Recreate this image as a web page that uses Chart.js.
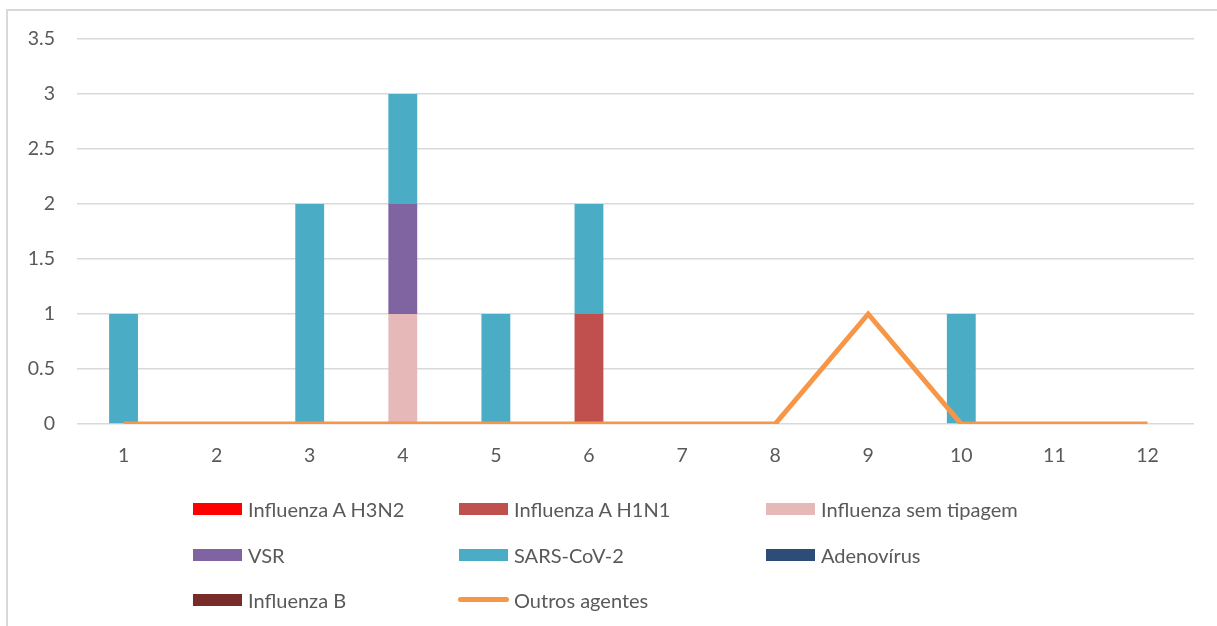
<!DOCTYPE html>
<html>
<head>
<meta charset="utf-8">
<script src="https://cdn.jsdelivr.net/npm/chart.js@4"></script>
<style>
  body { margin: 0; background: #fff; }
  #wrap { position: relative; width: 1217px; height: 626px; overflow: hidden; }
  #frame { position: absolute; left: 6px; top: 9px; width: 1300px; height: 700px; border: 2px solid #d9d9d9; box-sizing: border-box; }
  canvas { position: absolute; left: 0; top: 0; }
  .lg { position: absolute; font-family: Lato, "Open Sans", sans-serif; font-size: 20px; color: #595959; white-space: nowrap; line-height: 22px; }
  .sw { position: absolute; left: -55px; top: 5px; width: 49px; height: 12px; }
  .ln { position: absolute; left: -56px; top: 8px; width: 51px; height: 5px; border-radius: 3px; }
</style>
</head>
<body>
<div id="wrap">
  <div id="frame"></div>
  <canvas id="c" width="1217" height="626"></canvas>
  <div id="legend"></div>
</div>
<script>
const categories = ["1", "2", "3", "4", "5", "6", "7", "8", "9", "10", "11", "12"];
const h3n2 = [0, 0, 0, 0, 0, 0, 0, 0, 0, 0, 0, 0];
const h1n1 = [0, 0, 0, 0, 0, 1, 0, 0, 0, 0, 0, 0];
const semTipagem = [0, 0, 0, 1, 0, 0, 0, 0, 0, 0, 0, 0];
const vsr = [0, 0, 0, 1, 0, 0, 0, 0, 0, 0, 0, 0];
const sarsCov2 = [1, 0, 2, 1, 1, 1, 0, 0, 0, 1, 0, 0];
const adenovirus = [0, 0, 0, 0, 0, 0, 0, 0, 0, 0, 0, 0];
const influenzaB = [0, 0, 0, 0, 0, 0, 0, 0, 0, 0, 0, 0];
const outros = [0, 0, 0, 0, 0, 0, 0, 0, 1, 0, 0, 0];

const bar = (label, data, color) => ({
  type: "bar", label, data, backgroundColor: color, borderWidth: 0,
  barPercentage: 0.31, categoryPercentage: 1, stack: "s", order: 1
});

const datasets = [
  bar("Influenza A H3N2", h3n2, "#FF0000"),
  bar("Influenza A H1N1", h1n1, "#C0504D"),
  bar("Influenza sem tipagem", semTipagem, "#E6B9B8"),
  bar("VSR", vsr, "#8064A2"),
  bar("SARS-CoV-2", sarsCov2, "#4BACC6"),
  bar("Adenovírus", adenovirus, "#2C4D75"),
  bar("Influenza B", influenzaB, "#772C2A"),
  {
    type: "line", label: "Outros agentes", data: outros, borderColor: "#F79646",
    borderWidth: 5, pointRadius: 0, tension: 0, stack: "l", order: 0, fill: false
  }
];

const font = { family: "Lato, 'Open Sans', sans-serif", size: 19.5 };

new Chart(document.getElementById("c"), {
  data: { labels: categories, datasets },
  options: {
    responsive: false,
    animation: false,
    layout: { padding: { left: 0, right: 23, top: 39, bottom: 162 } },
    plugins: { legend: { display: false }, tooltip: { enabled: false } },
    scales: {
      x: {
        stacked: true,
        grid: { display: false },
        border: { display: false },
        ticks: { color: "#595959", font, padding: 12 },
        afterFit: s => { s.height = 40; }
      },
      y: {
        stacked: true,
        min: 0, max: 3.5,
        grid: { color: "#D9D9D9", lineWidth: 1.5, drawTicks: false },
        border: { display: false },
        ticks: { stepSize: 0.5, color: "#595959", font, padding: 22, callback: v => String(v) },
        afterFit: s => { s.width = 77; }
      }
    }
  }
});

// legend in a 3-column grid, like the original
const legendItems = [
  ["Influenza A H3N2", "#FF0000", 0, 0], ["Influenza A H1N1", "#C0504D", 1, 0], ["Influenza sem tipagem", "#E6B9B8", 2, 0],
  ["VSR", "#8064A2", 0, 1], ["SARS-CoV-2", "#4BACC6", 1, 1], ["Adenovírus", "#2C4D75", 2, 1],
  ["Influenza B", "#772C2A", 0, 2], ["Outros agentes", "#F79646", 1, 2, true]
];
const colX = [248, 514, 821];
const rowY = [498, 544, 589];
const lg = document.getElementById("legend");
legendItems.forEach(([text, color, col, row, isLine]) => {
  const d = document.createElement("div");
  d.className = "lg";
  d.style.left = colX[col] + "px";
  d.style.top = rowY[row] + "px";
  const s = document.createElement("span");
  s.className = isLine ? "ln" : "sw";
  s.style.background = color;
  d.appendChild(s);
  d.appendChild(document.createTextNode(text));
  lg.appendChild(d);
});
</script>
</body>
</html>
